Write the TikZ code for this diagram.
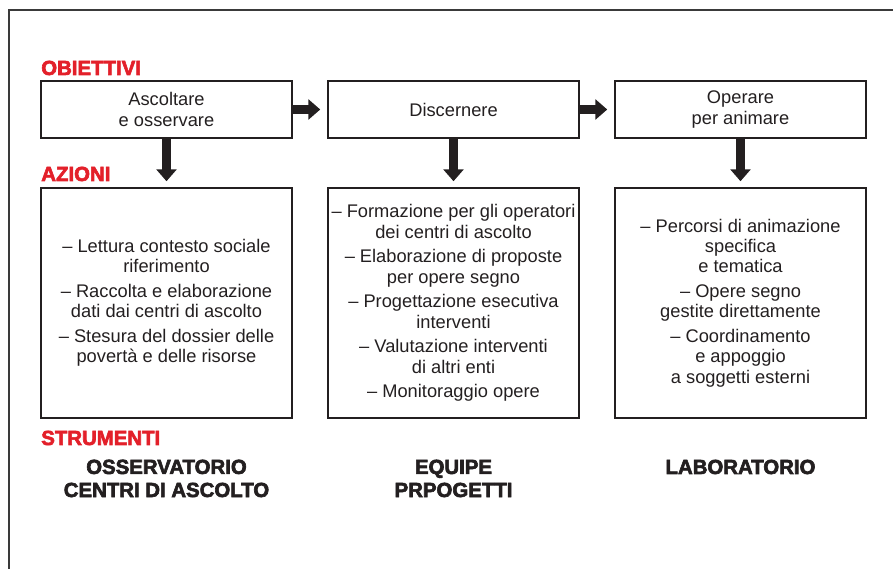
\documentclass[tikz,border=0pt]{standalone}
\usepackage{fontspec}
\setmainfont{Liberation Sans}
\newfontfamily\pesante[BoldFeatures={FakeBold=3}]{Liberation Sans}
\usetikzlibrary{arrows.meta}
\definecolor{rosso}{HTML}{E3202A}
\definecolor{inchiostro}{HTML}{231F20}
\definecolor{cornice}{HTML}{3A3A3A}

\begin{document}
\begin{tikzpicture}[x=0.025cm,y=-0.025cm,
    obiettivo/.style={draw=inchiostro, line width=1pt, minimum width=6.275cm, minimum height=1.425cm,
      align=center, inner sep=2pt, text=inchiostro, font=\fontsize{13}{14.5}\selectfont},
    azione/.style={obiettivo, minimum height=5.75cm},
    sezione/.style={anchor=base west, inner sep=0pt, text=rosso, font=\pesante\bfseries\fontsize{14.5}{15}\selectfont},
    strumento/.style={anchor=base, inner sep=0pt, align=center, text=inchiostro,
      font=\pesante\bfseries\fontsize{14.5}{16.4}\selectfont},
    freccia/.style={-{Triangle[length=0.3cm,width=0.5cm]}, line width=6.4pt, inchiostro}]
  \useasboundingbox (0,0) rectangle (893,569);
  \draw[cornice, line width=1.8pt] (893,10) -- (9,10) -- (9,569);
  % titoli
  \node[sezione] (tobj) at (41,75) {OBIETTIVI};
  \node[sezione] (tazi) at (41,181) {AZIONI};
  \node[sezione] (tstr) at (41,445) {STRUMENTI};
  % obiettivi
  \node[obiettivo] (o1) at (166.5,109.5) {Ascoltare\\e osservare};
  \node[obiettivo] (o2) at (453.5,109.5) {Discernere};
  \node[obiettivo] (o3) at (740.5,109.5) {Operare\\per animare};
  % azioni
  \node[azione] (a1) at (166.5,303) {– Lettura contesto sociale\\riferimento\\[3pt]– Raccolta e elaborazione\\dati dai centri di ascolto\\[3pt]– Stesura del dossier delle\\povertà e delle risorse};
  \node[azione] (a2) at (453.5,303) {– Formazione per gli operatori\\dei centri di ascolto\\[3pt]– Elaborazione di proposte\\per opere segno\\[3pt]– Progettazione esecutiva\\interventi\\[3pt]– Valutazione interventi\\di altri enti\\[3pt]– Monitoraggio opere};
  \node[azione] (a3) at (740.5,303) {– Percorsi di animazione\\specifica\\e tematica\\[3pt]– Opere segno\\gestite direttamente\\[3pt]– Coordinamento\\e appoggio\\a soggetti esterni};
  % strumenti (base = ultima riga)
  \node[strumento] (s1) at (166.5,497) {OSSERVATORIO\\CENTRI DI ASCOLTO};
  \node[strumento] (s2) at (453.5,497) {EQUIPE\\PRPOGETTI};
  \node[strumento] (s3) at (740.5,474) {LABORATORIO};
  % frecce
  \draw[freccia, shorten >=0.175cm] (o1.east) -- (o2.west);
  \draw[freccia, shorten >=0.175cm] (o2.east) -- (o3.west);
  \draw[freccia, shorten >=0.15cm] (o1.south) -- (a1.north);
  \draw[freccia, shorten >=0.15cm] (o2.south) -- (a2.north);
  \draw[freccia, shorten >=0.15cm] (o3.south) -- (a3.north);
\end{tikzpicture}
\end{document}
